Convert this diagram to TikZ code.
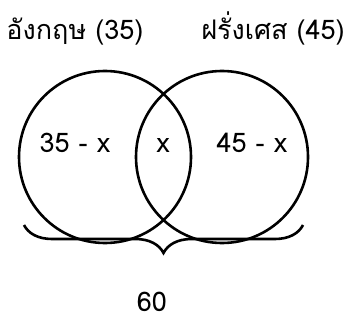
\documentclass[tikz,border=0pt]{standalone}
\usepackage{fontspec}
\setmainfont[Script=Thai]{Loma}
\usepackage{tikz}
\usetikzlibrary{decorations.pathreplacing}

\begin{document}
\begin{tikzpicture}[
  x=1pt, y=1pt,
  font=\fontsize{27}{31}\selectfont,
  set/.style={circle, draw, line width=2.6pt, minimum size=172pt, inner sep=0pt},
  lbl/.style={inner sep=0pt, anchor=base},
  brc/.style={decorate, decoration={brace, amplitude=28pt}, line width=2.6pt}]
  \useasboundingbox (0,0) rectangle (344,-323);

  % the two sets
  \node[set] (eng) at (105,-157) {};
  \node[set] (fre) at (222,-157) {};
  % set titles
  \node[lbl] (engt) at (75,-40) {อังกฤษ (35)};
  \node[lbl] (fret) at (273,-40) {ฝรั่งเศส (45)};
  % regions
  \node[lbl] (onlye) at (75,-152) {35 - x};
  \node[lbl] (both) at (163,-152) {x};
  \node[lbl] (onlyf) at (252,-152) {45 - x};
  % total
  \coordinate (braceR) at (303,-225);
  \coordinate (braceL) at (24,-225);
  \draw[brc] (braceR) -- (braceL);
  \node[lbl] (total) at (152,-311) {60};
\end{tikzpicture}
\end{document}
